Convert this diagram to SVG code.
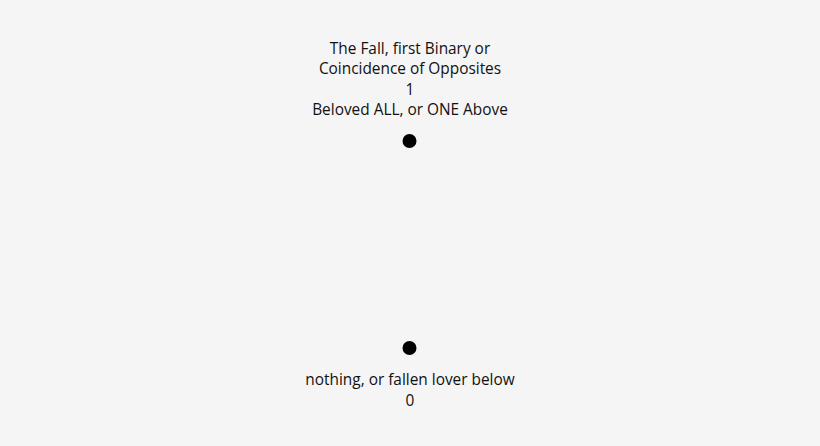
<svg xmlns="http://www.w3.org/2000/svg" width="820" height="446" viewBox="0 0 820 446">
<style>
.t{font-family:"Open Sans","Noto Sans","DejaVu Sans",sans-serif;font-size:15.4px;fill:#111;text-anchor:middle}
.dot{fill:#000}
</style>
<rect width="820" height="446" fill="#f5f5f5"/>
<g id="connectors"></g>
<g id="node-top">
<text class="t" x="410" y="53.5">The Fall, first Binary or</text>
<text class="t" x="410" y="74">Coincidence of Opposites</text>
<text class="t" x="410" y="94.5">1</text>
<text class="t" x="410" y="115">Beloved ALL, or ONE Above</text>
<circle class="dot" cx="409.5" cy="141" r="7"/>
</g>
<g id="node-bottom">
<circle class="dot" cx="409.5" cy="348" r="7"/>
<text class="t" x="410" y="385">nothing, or fallen lover below</text>
<text class="t" x="410" y="405.5">0</text>
</g>
</svg>
